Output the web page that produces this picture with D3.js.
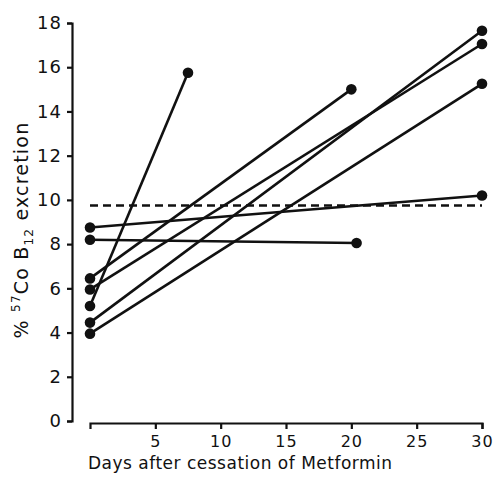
<!DOCTYPE html>
<html>
<head>
<meta charset="utf-8">
<script src="https://cdn.jsdelivr.net/npm/d3@7"></script>
<style>
  body { margin: 0; background: #fff; }
  text { font-family: "DejaVu Sans", sans-serif; fill: #111; }
</style>
</head>
<body>
<div id="chart"></div>
<script>
// chart size
var svgWidth = 496;
var svgHeight = 478;

// data: each patient, value at start and at follow-up
var startDays = [0, 0, 0, 0, 0, 0, 0];
var startValues = [8.75, 8.2, 6.45, 5.95, 5.2, 4.45, 3.95];
var endDays = [30, 20.4, 20, 30, 7.5, 30, 30];
var endValues = [10.2, 8.05, 15.0, 17.05, 15.75, 17.65, 15.25];

// normal level (dashed line)
var normalDays = [0, 30];
var normalValue = 9.75;

var xTicks = [5, 10, 15, 20, 25, 30];
var yTicks = [0, 2, 4, 6, 8, 10, 12, 14, 16, 18];

var svg = d3.select("#chart")
  .append("svg")
  .attr("width", svgWidth)
  .attr("height", svgHeight);

var xScale = d3.scaleLinear().domain([0, 30]).range([90, 482]);
var yScale = d3.scaleLinear().domain([0, 18]).range([421, 23]);

// y axis
var yAxis = svg.append("g")
  .attr("transform", "translate(72, 0)")
  .call(d3.axisLeft(yScale).tickValues(yTicks).tickSize(5).tickSizeOuter(5).tickPadding(5));
yAxis.selectAll("path, line").attr("stroke", "#111").attr("stroke-width", 2.2);
yAxis.selectAll("text").attr("font-size", 18).attr("font-family", "DejaVu Sans").attr("fill", "#111")
  .attr("letter-spacing", 1);

// x axis (sits a little below the y axis' zero)
var xAxis = svg.append("g")
  .attr("transform", "translate(0, 423)")
  .call(d3.axisBottom(xScale).tickValues(xTicks).tickSize(6).tickSizeOuter(6).tickPadding(7));
xAxis.selectAll("path, line").attr("stroke", "#111").attr("stroke-width", 2.2);
xAxis.selectAll("text").attr("font-size", 16).attr("font-family", "DejaVu Sans").attr("fill", "#111")
  .attr("letter-spacing", 1);

// x axis title
svg.append("text")
  .attr("x", 88)
  .attr("y", 469)
  .attr("font-size", 17)
  .attr("letter-spacing", 0.5)
  .text("Days after cessation of Metformin");

// y axis title
var yTitle = svg.append("text")
  .attr("transform", "translate(28, 230) rotate(-90)")
  .attr("text-anchor", "middle")
  .attr("font-size", 19)
  .attr("letter-spacing", 1.2);
yTitle.append("tspan").text("% ");
yTitle.append("tspan").attr("font-size", 12).attr("dy", -8).text("57");
yTitle.append("tspan").attr("dy", 8).text("Co  B");
yTitle.append("tspan").attr("font-size", 12).attr("dy", 5).text("12");
yTitle.append("tspan").attr("dy", -5).text("  excretion");

// dashed normal line
svg.append("line")
  .attr("x1", xScale(normalDays[0]))
  .attr("x2", xScale(normalDays[1]))
  .attr("y1", yScale(normalValue))
  .attr("y2", yScale(normalValue))
  .attr("stroke", "#111")
  .attr("stroke-width", 2.5)
  .attr("stroke-dasharray", "8,5");

var pairs = startValues.map(function(v, i) {
  return { x0: startDays[i], y0: v, x1: endDays[i], y1: endValues[i] };
});

// connecting lines
svg.selectAll(".pair")
  .data(pairs)
  .enter()
  .append("line")
  .attr("class", "pair")
  .attr("x1", d => xScale(d.x0))
  .attr("y1", d => yScale(d.y0))
  .attr("x2", d => xScale(d.x1))
  .attr("y2", d => yScale(d.y1))
  .attr("stroke", "#111")
  .attr("stroke-width", 2.6);

// start dots
svg.selectAll(".startDot")
  .data(pairs)
  .enter()
  .append("circle")
  .attr("class", "startDot")
  .attr("cx", d => xScale(d.x0))
  .attr("cy", d => yScale(d.y0))
  .attr("r", 5.3)
  .attr("fill", "#111");

// end dots
svg.selectAll(".endDot")
  .data(pairs)
  .enter()
  .append("circle")
  .attr("class", "endDot")
  .attr("cx", d => xScale(d.x1))
  .attr("cy", d => yScale(d.y1))
  .attr("r", 5.3)
  .attr("fill", "#111");
</script>
</body>
</html>
